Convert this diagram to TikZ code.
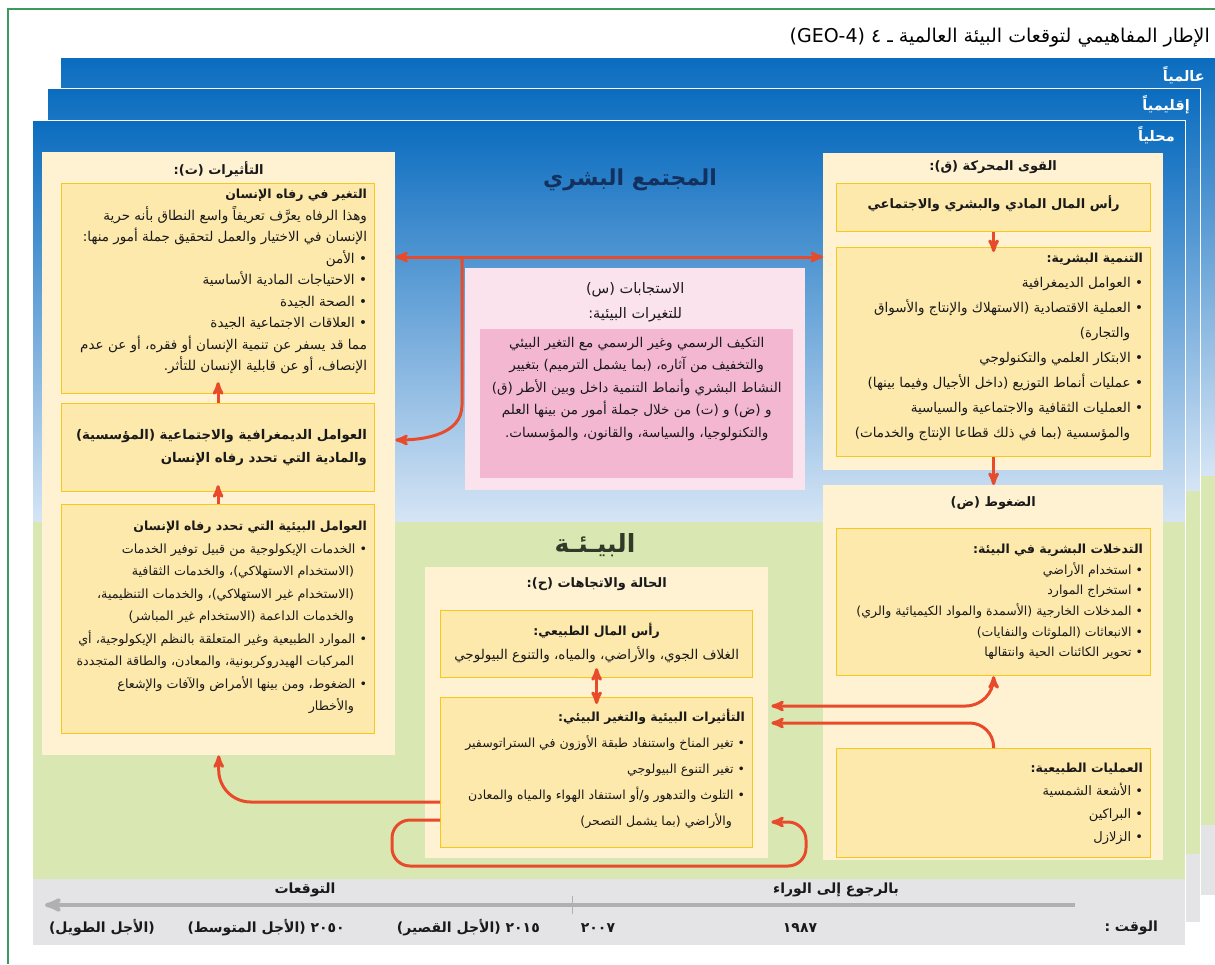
\documentclass[tikz,border=0pt]{standalone}
\usepackage{fontspec}
\usepackage{tikz}
\usetikzlibrary{arrows,positioning}

\newfontfamily\arabicfont[Script=Arabic]{DejaVu Sans}
\TeXXeTstate=1
\newcommand{\rl}[1]{\beginR #1\endR}
\newcommand{\rlb}[1]{\beginR{\bfseries\fontsize{12.5}{21}\selectfont #1}\endR}
\newcommand{\bulind}{\hspace*{13pt}}

\definecolor{cream}{HTML}{FEF2D2}
\definecolor{boxfill}{HTML}{FDE9AB}
\definecolor{boxline}{HTML}{F7C81A}
\definecolor{arrred}{HTML}{E84A2C}
\definecolor{pinklight}{HTML}{FBE3EE}
\definecolor{pinkdark}{HTML}{F4B7D2}
\definecolor{envgreen}{HTML}{D9E8B2}
\definecolor{timegray}{HTML}{E4E4E6}
\definecolor{skytop}{HTML}{0A6CBF}
\definecolor{skybottom}{HTML}{D6E5F5}
\definecolor{framegreen}{HTML}{3C9A5C}
\definecolor{navy}{HTML}{13305F}
\definecolor{envdark}{HTML}{2F3B28}
\definecolor{timeline}{HTML}{B0B0B0}

\tikzset{
  panelsky/.style={top color=skytop, bottom color=skybottom},
  panelline/.style={draw=white, line width=0.8pt},
  outer/.style={fill=cream, inner sep=0pt, anchor=north west},
  inner/.style={fill=boxfill, draw=boxline, line width=1.2pt, inner sep=0pt, anchor=north west},
  txt/.style={align=right, inner sep=0pt, text=black!90, font=\arabicfont\fontsize{13.5}{21.5}\selectfont},
  head/.style={inner sep=0pt, text=black!90, font=\arabicfont\bfseries\fontsize{13}{16}\selectfont},
  lvl/.style={inner sep=0pt, anchor=east, text=white, font=\arabicfont\bfseries\fontsize{14.5}{16}\selectfont},
  tlabel/.style={inner sep=0pt, text=black!90, font=\arabicfont\bfseries\fontsize{14}{16}\selectfont},
  arr/.style={->, >=stealth', arrred, line width=3pt},
  timearr/.style={->, >=stealth', timeline, line width=4pt},
}

\begin{document}
\begin{tikzpicture}[x=1pt, y=-1pt]
\useasboundingbox (0,0) rectangle (1215,964);

% frame and title
\draw[framegreen, line width=1.2pt] (8,964) -- (8,9) -- (1215,9);
\node[inner sep=0pt, anchor=east, font=\arabicfont\fontsize{19}{22}\selectfont] (title) at (1210,38)
  {\rl{الإطار المفاهيمي لتوقعات البيئة العالمية ـ ٤ \beginL(GEO-4)\endL}};

% global / regional / local panels
\shade[panelsky] (60,57) rectangle (1215,476);
\fill[envgreen] (60,476) rectangle (1215,825);
\fill[timegray] (60,825) rectangle (1215,895);
\draw[panelline] (60,57) rectangle (1215,895);
\shade[panelsky] (47,88) rectangle (1200,491);
\fill[envgreen] (47,491) rectangle (1200,854);
\fill[timegray] (47,854) rectangle (1200,922);
\draw[panelline] (47,88) rectangle (1200,922);
\shade[panelsky] (32,120) rectangle (1185,522);
\fill[envgreen] (32,522) rectangle (1185,879);
\fill[timegray] (32,879) rectangle (1185,945);
\draw[panelline] (32,120) rectangle (1185,945);

\node[lvl] (glob) at (1205,75) {\rl{عالمياً}};
\node[lvl] (regi) at (1190,105) {\rl{إقليمياً}};
\node[lvl] (loca) at (1175,135) {\rl{محلياً}};

\node[inner sep=0pt, text=navy, font=\arabicfont\bfseries\fontsize{22}{26}\selectfont] (society) at (630,180) {\rl{المجتمع البشري}};
\node[inner sep=0pt, text=envdark, font=\arabicfont\bfseries\fontsize{25}{28}\selectfont] (environ) at (595,545) {\rl{البيـئـة}};

% impacts (T)
\node[outer, minimum width=353, minimum height=603] (T) at (42,152) {};
\node[head, below=9pt of T.north] (Th) {\rl{التأثيرات (ت):}};
\node[inner, minimum width=313, minimum height=210] (T1) at (61,183) {};
\node[inner, minimum width=313, minimum height=88] (T2) at (61,403) {};
\node[inner, minimum width=313, minimum height=229] (T3) at (61,504) {};
\node[txt, below left=6pt and 8pt of T1.north east] (T1t) {%
  \rlb{التغير في رفاه الإنسان}\\
  \rl{وهذا الرفاه يعرَّف تعريفاً واسع النطاق بأنه حرية}\\
  \rl{الإنسان في الاختيار والعمل لتحقيق جملة أمور منها:}\\
  \rl{• الأمن}\\
  \rl{• الاحتياجات المادية الأساسية}\\
  \rl{• الصحة الجيدة}\\
  \rl{• العلاقات الاجتماعية الجيدة}\\
  \rl{مما قد يسفر عن تنمية الإنسان أو فقره، أو عن عدم}\\
  \rl{الإنصاف، أو عن قابلية الإنسان للتأثر.}};
\node[txt, font=\arabicfont\bfseries\fontsize{13.3}{23}\selectfont, left=8pt of T2.east] (T2t) {%
  \rl{العوامل الديمغرافية والاجتماعية (المؤسسية)}\\
  \rl{والمادية التي تحدد رفاه الإنسان}};
\node[txt, below left=17pt and 8pt of T3.north east, font=\arabicfont\fontsize{12.7}{22.5}\selectfont] (T3t) {%
  \rlb{العوامل البيئية التي تحدد رفاه الإنسان}\\
  \rl{• الخدمات الإيكولوجية من قبيل توفير الخدمات}\\
  \rl{\bulind(الاستخدام الاستهلاكي)، والخدمات الثقافية}\\
  \rl{\bulind(الاستخدام غير الاستهلاكي)، والخدمات التنظيمية،}\\
  \rl{\bulind والخدمات الداعمة (الاستخدام غير المباشر)}\\
  \rl{• الموارد الطبيعية وغير المتعلقة بالنظم الإيكولوجية، أي}\\
  \rl{\bulind المركبات الهيدروكربونية، والمعادن، والطاقة المتجددة}\\
  \rl{• الضغوط، ومن بينها الأمراض والآفات والإشعاع}\\
  \rl{\bulind والأخطار}};

% drivers (Q)
\node[outer, minimum width=340, minimum height=317] (Q) at (823,153) {};
\node[head, below=7pt of Q.north] (Qh) {\rl{القوى المحركة (ق):}};
\node[inner, minimum width=314, minimum height=48] (Q1) at (836,183) {};
\node[inner, minimum width=314, minimum height=209] (Q2) at (836,247) {};
\node[txt, font=\arabicfont\bfseries\fontsize{13}{16}\selectfont, below=12pt of Q1.north] (Q1t) {\rl{رأس المال المادي والبشري والاجتماعي}};
\node[txt, below left=6pt and 8pt of Q2.north east, font=\arabicfont\fontsize{13.5}{25}\selectfont] (Q2t) {%
  \rlb{التنمية البشرية:}\\
  \rl{• العوامل الديمغرافية}\\
  \rl{• العملية الاقتصادية (الاستهلاك والإنتاج والأسواق}\\
  \rl{\bulind والتجارة)}\\
  \rl{• الابتكار العلمي والتكنولوجي}\\
  \rl{• عمليات أنماط التوزيع (داخل الأجيال وفيما بينها)}\\
  \rl{• العمليات الثقافية والاجتماعية والسياسية}\\
  \rl{\bulind والمؤسسية (بما في ذلك قطاعا الإنتاج والخدمات)}};

% pressures (D)
\node[outer, minimum width=340, minimum height=375] (D) at (823,485) {};
\node[head, below=11pt of D.north] (Dh) {\rl{الضغوط (ض)}};
\node[inner, minimum width=314, minimum height=147] (D1) at (836,528) {};
\node[inner, minimum width=314, minimum height=109] (D2) at (836,748) {};
\node[txt, below left=16pt and 8pt of D1.north east, font=\arabicfont\fontsize{12.5}{20.6}\selectfont] (D1t) {%
  \rlb{التدخلات البشرية في البيئة:}\\
  \rl{• استخدام الأراضي}\\
  \rl{• استخراج الموارد}\\
  \rl{• المدخلات الخارجية (الأسمدة والمواد الكيميائية والري)}\\
  \rl{• الانبعاثات (الملوثات والنفايات)}\\
  \rl{• تحوير الكائنات الحية وانتقالها}};
\node[txt, below left=15pt and 8pt of D2.north east, font=\arabicfont\fontsize{13}{23}\selectfont] (D2t) {%
  \rlb{العمليات الطبيعية:}\\
  \rl{• الأشعة الشمسية}\\
  \rl{• البراكين}\\
  \rl{• الزلازل}};

% state (H)
\node[outer, minimum width=343, minimum height=291] (H) at (425,567) {};
\node[head, below=10pt of H.north] (Hh) {\rl{الحالة والاتجاهات (ح):}};
\node[inner, minimum width=312, minimum height=67] (H1) at (440,610) {};
\node[inner, minimum width=312, minimum height=150] (H2) at (440,697) {};
\node[txt, align=center, below=13pt of H1.north, font=\arabicfont\fontsize{13.5}{24}\selectfont] (H1t) {%
  \rlb{رأس المال الطبيعي:}\\
  \rl{الغلاف الجوي، والأراضي، والمياه، والتنوع البيولوجي}};
\node[txt, below left=12pt and 8pt of H2.north east, font=\arabicfont\fontsize{12.5}{26}\selectfont] (H2t) {%
  \rlb{التأثيرات البيئية والتغير البيئي:}\\
  \rl{• تغير المناخ واستنفاد طبقة الأوزون في الستراتوسفير}\\
  \rl{• تغير التنوع البيولوجي}\\
  \rl{• التلوث والتدهور و/أو استنفاد الهواء والمياه والمعادن}\\
  \rl{\bulind والأراضي (بما يشمل التصحر)}};

% responses (S)
\node[outer, fill=pinklight, minimum width=340, minimum height=222] (S) at (465,268) {};
\node[txt, align=center, below=14pt of S.north, font=\arabicfont\fontsize{14.5}{25}\selectfont] (Sh) {%
  \rl{الاستجابات (س)}\\
  \rl{للتغيرات البيئية:}};
\node[outer, fill=pinkdark, minimum width=313, minimum height=149] (S1) at (480,329) {};
\node[txt, align=center, below=8pt of S1.north, font=\arabicfont\fontsize{13.5}{22.5}\selectfont] (S1t) {%
  \rl{التكيف الرسمي وغير الرسمي مع التغير البيئي}\\
  \rl{والتخفيف من آثاره، (بما يشمل الترميم) بتغيير}\\
  \rl{النشاط البشري وأنماط التنمية داخل وبين الأطر (ق)}\\
  \rl{و (ض) و (ت) من خلال جملة أمور من بينها العلم}\\
  \rl{والتكنولوجيا، والسياسة، والقانون، والمؤسسات.}};

% connectors
\coordinate (fork) at (462,257);
\draw[arr] (Q1.south) -- ([yshift=-5pt]Q2.north);
\draw[arr] (Q2.south) -- (Q2.south |- D.north);
\draw[arr] (T3.north) -- ([yshift=7pt]T2.south);
\draw[arr] (T2.north) -- ([yshift=12pt]T1.south);
\draw[arr, <->] (T.east |- fork) -- (Q.west |- fork);
\draw[arr] (fork) -- (fork |- 0,405) to[out=-90, in=0] (T.east |- 0,440);
\draw[arr, <->] ([yshift=10pt]H1.south) -- ([yshift=-7pt]H2.north);
\draw[arr, <->, rounded corners=28] ([xshift=3pt]H.east |- 0,706) -| (D1.south);
\draw[arr, rounded corners=24] (D2.north) |- ([xshift=3pt]H.east |- 0,723);
\draw[arr, rounded corners=32] (H2.west |- 0,802) -| (T.south);
\draw[arr, rounded corners=18] (H2.west |- 0,820) -- (392,820) -- (392,866) -- (806,866) -- (806,822) -- ([xshift=3pt]H.east |- 0,822);

% time line
\coordinate (tnow) at (1075,905);
\coordinate (tfar) at (45,905);
\coordinate (tick) at (572,905);
\draw[timearr] (tnow) -- (tfar);
\draw[timeline, line width=1pt] ([yshift=9pt]tick) -- ([yshift=-9pt]tick);
\node[tlabel] (back) at (836,890) {\rl{بالرجوع إلى الوراء}};
\node[tlabel] (outlook) at (305,890) {\rl{التوقعات}};
\node[tlabel, anchor=east] (time) at (1158,928) {\rl{الوقت :}};
\node[tlabel] (y1987) at (800,928) {\rl{١٩٨٧}};
\node[tlabel] (y2007) at (598,928) {\rl{٢٠٠٧}};
\node[tlabel, anchor=east] (y2015) at (540,928) {\rl{٢٠١٥ (الأجل القصير)}};
\node[tlabel, anchor=east] (y2050) at (345,928) {\rl{٢٠٥٠ (الأجل المتوسط)}};
\node[tlabel, anchor=east] (ylong) at (155,928) {\rl{(الأجل الطويل)}};
\end{tikzpicture}
\end{document}
